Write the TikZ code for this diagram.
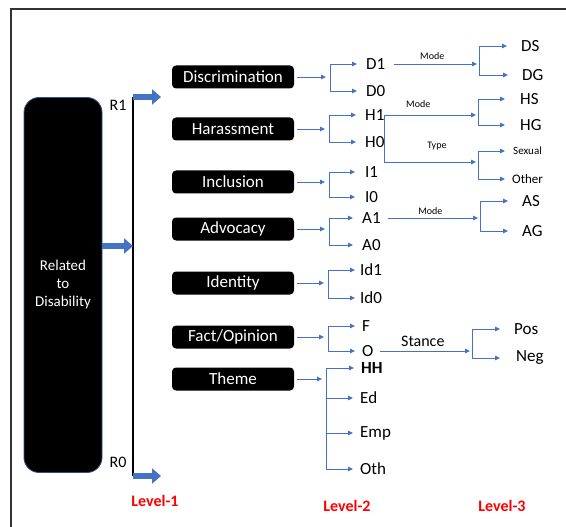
\documentclass[tikz,border=0pt]{standalone}
\usepackage{fontspec}
\setmainfont{Carlito}
\usetikzlibrary{arrows.meta}
\definecolor{blu}{HTML}{4472C4}
\begin{document}
\begin{tikzpicture}[x=1pt,y=-1pt,
    cat/.style={fill=black, text=white, rounded corners=4pt, minimum width=122pt,
      minimum height=23pt, inner sep=0pt, font=\fontsize{17}{20}\selectfont},
    lab/.style={anchor=west, inner sep=0pt, font=\fontsize{17}{20}\selectfont},
    modelab/.style={inner sep=0pt, font=\fontsize{10}{12}\selectfont},
    link/.style={draw=blu, line width=0.9pt},
    arr/.style={link, -{Triangle[length=5pt,width=4.5pt]}},
    fat/.style={draw=blu, line width=6pt, -{Triangle[length=9pt,width=15pt]}},
    lvl/.style={text=red, font=\fontsize{16}{19}\selectfont\bfseries}]

      \useasboundingbox (0,0) rectangle (566,527);
      \draw[line width=1.2pt, black!80] (11,527) -- (11,9) -- (566,9);

      % root and level-1 bar
      \node[fill=black, draw=blu!70!black, line width=0.8pt, rounded corners=15pt,
        minimum width=78pt, minimum height=375pt, text=white, align=center,
        font=\fontsize{15}{18}\selectfont] (rel) at (63,285) {Related\\to\\Disability};
      \coordinate (r1) at (133,97);
      \coordinate (r0) at (133,476);
      \coordinate (mid) at (133,246);
      \coordinate (r1e) at (161,97);
      \coordinate (r0e) at (161,476);
      \draw[line width=2pt] (r1) -- (r0);

      \begin{scope}[every node/.style={font=\fontsize{16}{19}\selectfont}]
        \node (R1) at (118,105) {R1};
        \node (R0) at (118,462) {R0};
      \end{scope}

      \path (rel.east |- mid) edge[fat] (mid);
      \path (r1) edge[fat] (r1e);
      \path (r0) edge[fat] (r0e);

      \begin{scope}[every node/.style={cat}]
        \node (disc)  at (233,77)  {Discrimination};
        \node (har)   at (233,129) {Harassment};
        \node (inc)   at (233,182) {Inclusion};
        \node (adv)   at (233,229) {Advocacy};
        \node (iden)  at (233,283) {Identity};
        \node (fact)  at (233,337) {Fact/Opinion};
        \node (theme) at (233,379) {Theme};
      \end{scope}

      % bracket points
      \coordinate (jD)  at (330,77);
      \coordinate (jH)  at (329,129);
      \coordinate (jI)  at (329,182);
      \coordinate (jA)  at (329,229);
      \coordinate (jId) at (328,283);
      \coordinate (jF)  at (328,337);
      \coordinate (jT)  at (326,379);

      \begin{scope}[every node/.style={lab}]
        \node (d1)  at (366,64)  {D1};
        \node (d0)  at (366,91)  {D0};
        \node (h1)  at (365,115) {H1};
        \node (h0)  at (365,142) {H0};
        \node (i1)  at (365,172) {I1};
        \node (i0)  at (365,197) {I0};
        \node (a1)  at (362,218) {A1};
        \node (a0)  at (362,245) {A0};
        \node (id1) at (360,270) {Id1};
        \node (id0) at (360,298) {Id0};
        \node (f)   at (362,326) {F};
        \node (o)   at (362,351) {O};
        \node (hh)  at (361,368) {\bfseries HH};
        \node (ed)  at (360,398) {Ed};
        \node (emp) at (360,433) {Emp};
        \node (oth) at (360,469) {Oth};

        \node (ds)  at (521,46)  {DS};
        \node (dg)  at (522,75)  {DG};
        \node (hs)  at (520,99)  {HS};
        \node (hg)  at (520,125) {HG};
        \node[font=\fontsize{11}{13}\selectfont] (sex) at (513,151) {Sexual};
        \node[font=\fontsize{13}{15}\selectfont] (other) at (512,179) {Other};
        \node (as)  at (522,201) {AS};
        \node (ag)  at (522,231) {AG};
        \node (pos) at (514,329) {Pos};
        \node (neg) at (516,358) {Neg};
      \end{scope}

      \begin{scope}[every node/.style={lvl}]
        \node (lv1) at (155,501) {Level-1};
        \node (lv2) at (347,506) {Level-2};
        \node (lv3) at (502,506) {Level-3};
      \end{scope}

      % level-3 bracket points
      \coordinate (kD)  at (479,64);
      \coordinate (kHm) at (478,115);
      \coordinate (kHt) at (478,162);
      \coordinate (kA)  at (480,218);
      \coordinate (kO)  at (472,351);

      \begin{scope}[every edge/.style={arr}]
        \path (disc)  edge[shorten <=3pt, shorten >=4pt] (jD);
        \path (har)   edge[shorten <=3pt, shorten >=4pt] (jH);
        \path (inc)   edge[shorten <=3pt, shorten >=4pt] (jI);
        \path (adv)   edge[shorten <=3pt, shorten >=4pt] (jA);
        \path (iden)  edge[shorten <=3pt, shorten >=4pt] (jId);
        \path (fact)  edge[shorten <=3pt, shorten >=4pt] (jF);
        \path (theme) edge[shorten <=3pt, shorten >=4pt] (jT);

        \path (jD |- d1)  edge[shorten >=9pt] (d1.west);
        \path (jD |- d0)  edge[shorten >=9pt] (d0.west);
        \path (jH |- h1)  edge[shorten >=9pt] (h1.west);
        \path (jH |- h0)  edge[shorten >=9pt] (h0.west);
        \path (jI |- i1)  edge[shorten >=10pt] (i1.west);
        \path (jI |- i0)  edge[shorten >=10pt] (i0.west);
        \path (jA |- a1)  edge[shorten >=9pt] (a1.west);
        \path (jA |- a0)  edge[shorten >=9pt] (a0.west);
        \path (jId |- id1) edge[shorten >=5pt] (id1.west);
        \path (jId |- id0) edge[shorten >=5pt] (id0.west);
        \path (jF |- f)   edge[shorten >=7pt] (f.west);
        \path (jF |- o)   edge[shorten >=7pt] (o.west);
        \path (jT |- hh)  edge[shorten >=7pt] (hh.west);
        \path (jT |- ed)  edge[shorten >=7pt] (ed.west);
        \path (jT |- emp) edge[shorten >=7pt] (emp.west);
        \path (jT |- oth) edge[shorten >=7pt] (oth.west);

        \path (d1.east) edge[shorten <=9pt, shorten >=2pt] node[modelab, above=4pt] {Mode} (kD);
        \path (h1.east) edge[shorten >=2pt] node[modelab, pos=.36, above=7pt] {Mode} (kHm);
        \path (a1.east) edge[shorten <=7pt, shorten >=2pt] node[modelab, above=3pt] {Mode} (kA);
        \path (o.east)  edge[shorten <=6pt, shorten >=2pt]
          node[above=4pt, inner sep=0pt, font=\fontsize{16}{19}\selectfont] {Stance} (kO);

        \path (kD |- ds)   edge[shorten >=14pt] (ds.west);
        \path (kD |- dg)   edge[shorten >=14pt] (dg.west);
        \path (kHm |- hs)  edge[shorten >=15pt] (hs.west);
        \path (kHm |- hg)  edge[shorten >=15pt] (hg.west);
        \path (kHt |- sex) edge[shorten >=8pt] (sex.west);
        \path (kHt |- other) edge[shorten >=7pt] (other.west);
        \path (kA |- as)   edge[shorten >=14pt] (as.west);
        \path (kA |- ag)   edge[shorten >=14pt] (ag.west);
        \path (kO |- pos)  edge[shorten >=14pt] (pos.west);
        \path (kO |- neg)  edge[shorten >=16pt] (neg.west);
      \end{scope}

      \draw[arr, shorten >=2pt] (h1.east) |- node[modelab, pos=.78, above=11pt] {Type} (kHt);

      \begin{scope}[every edge/.style={link}]
        \path (jD |- d1)   edge (jD |- d0);
        \path (jH |- h1)   edge (jH |- h0);
        \path (jI |- i1)   edge (jI |- i0);
        \path (jA |- a1)   edge (jA |- a0);
        \path (jId |- id1) edge (jId |- id0);
        \path (jF |- f)    edge (jF |- o);
        \path (jT |- hh)   edge (jT |- oth);
        \path (kD |- ds)   edge (kD |- dg);
        \path (kHm |- hs)  edge (kHm |- hg);
        \path (kHt |- sex) edge (kHt |- other);
        \path (kA |- as)   edge (kA |- ag);
        \path (kO |- pos)  edge (kO |- neg);
      \end{scope}

    \end{tikzpicture}
\end{document}
